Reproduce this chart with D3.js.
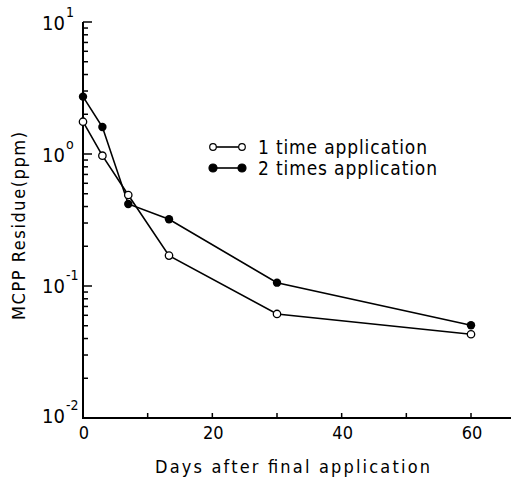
<!DOCTYPE html>
<html>
<head>
<meta charset="utf-8">
<title>MCPP residue</title>
<style>
  body { margin: 0; background: #fff; }
  svg { display: block; font-family: "Liberation Sans Narrow", "DejaVu Sans Condensed", "Liberation Sans", sans-serif; }
  .lbl { fill: #000; }
</style>
</head>
<body>
<div id="chart"></div>
<script src="https://d3js.org/d3.v7.min.js"></script>
<script>
const days = [0, 3, 7, 13.3, 30, 60];
const once = [1.756, 0.971, 0.489, 0.170, 0.0614, 0.0431];
const twice = [2.72, 1.60, 0.418, 0.320, 0.106, 0.0504];
const seriesNames = ["1 time application", "2 times application"];
const xTicks = [0, 10, 20, 30, 40, 50, 60];
const xTickLabels = ["0", "", "20", "", "40", "", "60"];
const yDecades = [1, 0, -1, -2];
const yExpLabels = ["1", "o", "-1", "-2"];

const w = 511, h = 481;
const x = d3.scaleLinear().domain([0, 60]).range([83, 471]);
const y = d3.scaleLog().domain([0.01, 10]).range([418, 22]);

const svg = d3.select('#chart').append('svg').attr('width', w).attr('height', h);

// axis lines
svg.append('line').attr('x1', x(0)).attr('x2', 511).attr('y1', y(0.01)).attr('y2', y(0.01))
  .attr('stroke', '#000').attr('stroke-width', 2);
svg.append('line').attr('x1', x(0)).attr('x2', x(0)).attr('y1', y(0.01) + 1).attr('y2', y(10))
  .attr('stroke', '#000').attr('stroke-width', 2);

// y ticks, major + minor, pointing inward
var yt = [];
[-2, -1, 0].forEach(function (e) {
  for (var k = 1; k < 10; k++) yt.push({ v: k * Math.pow(10, e), major: k === 1 });
});
yt.push({ v: 10, major: true });
svg.selectAll('.ytick').data(yt).enter().append('line')
  .attr('x1', x(0)).attr('x2', d => x(0) + (d.major ? 9 : 5))
  .attr('y1', d => y(d.v)).attr('y2', d => y(d.v))
  .attr('stroke', '#000').attr('stroke-width', 1.5);

// y tick labels 10^n
var yOff = [8, 8, 7, 5];
yDecades.forEach(function (e, i) {
  var ty = y(Math.pow(10, e)) + yOff[i];
  svg.append('text').attr('class', 'lbl')
    .attr('x', 65).attr('y', ty).attr('text-anchor', 'end')
    .style('font-size', '20px').text('10');
  svg.append('text').attr('class', 'lbl').attr('x', 66).attr('y', ty - 13)
    .style('font-size', '14px').text(yExpLabels[i]);
});

// x ticks pointing up
svg.selectAll('.xtick').data(xTicks.slice(1)).enter().append('line')
  .attr('x1', d => x(d)).attr('x2', d => x(d))
  .attr('y1', y(0.01)).attr('y2', y(0.01) - 5)
  .attr('stroke', '#000').attr('stroke-width', 1.5);
svg.selectAll('.xlab').data(xTicks).enter().append('text').attr('class', 'lbl')
  .attr('x', d => x(d) + 1).attr('y', 439).attr('text-anchor', 'middle')
  .style('font-size', '18px')
  .text((d, i) => xTickLabels[i]);

// axis titles
svg.append('text').attr('class', 'lbl').attr('x', 155).attr('y', 473)
  .attr('textLength', 275).attr('lengthAdjust', 'spacing')
  .style('font-size', '18px').text('Days after final application');
svg.append('text').attr('class', 'lbl')
  .attr('transform', 'translate(25,320) rotate(-90)')
  .attr('textLength', 188).attr('lengthAdjust', 'spacing')
  .style('font-size', '18px').text('MCPP Residue(ppm)');

// series
var line = d3.line().x((d, i) => x(days[i])).y(d => y(d));
[twice, once].forEach(function (vals) {
  svg.append('path').datum(vals).attr('d', line)
    .attr('fill', 'none').attr('stroke', '#000').attr('stroke-width', 1.6);
});
svg.selectAll('.p2').data(twice).enter().append('circle')
  .attr('cx', (d, i) => x(days[i])).attr('cy', d => y(d)).attr('r', 4.2)
  .attr('fill', '#000');
svg.selectAll('.p1').data(once).enter().append('circle')
  .attr('cx', (d, i) => x(days[i])).attr('cy', d => y(d)).attr('r', 3.7)
  .attr('fill', '#fff').attr('stroke', '#000').attr('stroke-width', 1.3);

// legend
var leg = svg.append('g');
var legW = [169, 179];
seriesNames.forEach(function (name, i) {
  var ly = 147 + i * 21;
  leg.append('line').attr('x1', 213).attr('x2', 242).attr('y1', ly).attr('y2', ly)
    .attr('stroke', '#000').attr('stroke-width', 1.6);
  [213, 242].forEach(function (cx) {
    leg.append('circle').attr('cx', cx).attr('cy', ly).attr('r', i ? 4 : 3.3)
      .attr('fill', i ? '#000' : '#fff').attr('stroke', '#000').attr('stroke-width', 1.2);
  });
  leg.append('text').attr('class', 'lbl').attr('x', 258).attr('y', ly + 7)
    .attr('textLength', legW[i]).attr('lengthAdjust', 'spacing')
    .style('font-size', '19px').text(name);
});
</script>
</body>
</html>
